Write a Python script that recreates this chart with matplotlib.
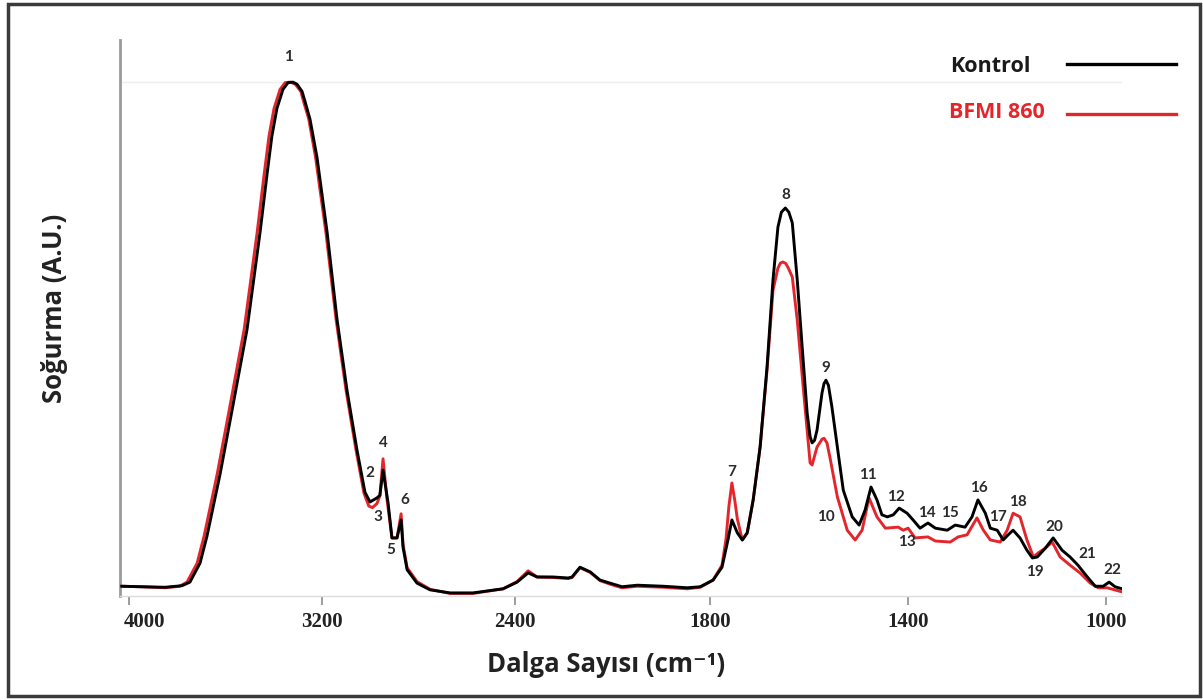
import numpy as np
import matplotlib.pyplot as plt
from matplotlib.patches import Rectangle

# FTIR spectra, (wavenumber cm-1, absorbance a.u.)
kontrol = [
    (4030, 0.019), (3950, 0.018), (3850, 0.017), (3780, 0.020), (3747, 0.027),
    (3705, 0.064), (3676, 0.117), (3622, 0.237), (3568, 0.372), (3510, 0.519),
    (3456, 0.708), (3427, 0.821), (3407, 0.895), (3386, 0.949), (3361, 0.986),
    (3340, 0.999), (3320, 1.000), (3303, 0.996), (3282, 0.982), (3270, 0.963),
    (3249, 0.928), (3220, 0.854), (3178, 0.708), (3137, 0.539),
    (3095, 0.399), (3054, 0.284), (3021, 0.202), (3000, 0.183), (2971, 0.191),
    (2959, 0.196), (2946, 0.245), (2925, 0.181), (2909, 0.113), (2888, 0.113),
    (2871, 0.148), (2863, 0.095), (2846, 0.051), (2805, 0.025), (2751, 0.012),
    (2668, 0.006), (2573, 0.006), (2448, 0.014), (2390, 0.027), (2344, 0.045),
    (2307, 0.037), (2241, 0.037), (2178, 0.035), (2162, 0.037), (2129, 0.056),
    (2087, 0.047), (2046, 0.031), (2004, 0.025), (1978, 0.018), (1947, 0.021),
    (1895, 0.019), (1846, 0.016), (1820, 0.018), (1794, 0.031), (1776, 0.056),
    (1764, 0.109), (1756, 0.148), (1745, 0.123), (1735, 0.109), (1725, 0.123),
    (1713, 0.187), (1699, 0.290), (1685, 0.446), (1673, 0.615), (1663, 0.718),
    (1656, 0.747), (1648, 0.755), (1641, 0.747), (1634, 0.726), (1624, 0.615),
    (1614, 0.484), (1604, 0.356), (1598, 0.310), (1594, 0.298), (1589, 0.303),
    (1584, 0.323), (1574, 0.395), (1570, 0.413), (1566, 0.420), (1561, 0.410),
    (1554, 0.368), (1543, 0.290), (1531, 0.206), (1513, 0.154), (1499, 0.138),
    (1487, 0.167), (1475, 0.212), (1463, 0.187), (1453, 0.158), (1442, 0.154),
    (1430, 0.158), (1418, 0.171), (1402, 0.161), (1390, 0.148), (1376, 0.132),
    (1360, 0.142), (1345, 0.132), (1321, 0.128), (1305, 0.138), (1285, 0.134),
    (1271, 0.154), (1259, 0.187), (1244, 0.161), (1234, 0.132), (1220, 0.128),
    (1208, 0.109), (1198, 0.119), (1188, 0.128), (1174, 0.113), (1160, 0.089),
    (1149, 0.074), (1139, 0.076), (1123, 0.093), (1107, 0.113), (1089, 0.089),
    (1073, 0.076), (1057, 0.060), (1038, 0.037), (1022, 0.019), (1006, 0.019),
    (994, 0.027), (982, 0.018), (968, 0.014),
]

bfmi_860 = [
    (4030, 0.019), (3950, 0.018), (3850, 0.016), (3790, 0.019), (3759, 0.027),
    (3717, 0.064), (3688, 0.117), (3634, 0.237), (3580, 0.372), (3522, 0.519),
    (3468, 0.708), (3439, 0.821), (3419, 0.895), (3398, 0.949), (3373, 0.986),
    (3352, 0.999), (3330, 1.000), (3310, 0.996), (3287, 0.982), (3276, 0.963),
    (3254, 0.928), (3226, 0.854), (3183, 0.708), (3141, 0.539),
    (3099, 0.399), (3058, 0.284), (3025, 0.200), (3005, 0.175), (2990, 0.172),
    (2971, 0.180), (2959, 0.195), (2946, 0.267), (2930, 0.190), (2909, 0.113),
    (2888, 0.113), (2871, 0.160), (2863, 0.100), (2846, 0.055), (2805, 0.028),
    (2751, 0.013), (2668, 0.005), (2573, 0.005), (2448, 0.014), (2390, 0.028),
    (2344, 0.049), (2307, 0.037), (2241, 0.036), (2178, 0.034), (2162, 0.036),
    (2129, 0.055), (2087, 0.046), (2046, 0.030), (2004, 0.023), (1978, 0.016),
    (1947, 0.019), (1895, 0.017), (1846, 0.014), (1820, 0.017), (1794, 0.031),
    (1776, 0.060), (1768, 0.110), (1762, 0.175), (1756, 0.220), (1750, 0.185),
    (1745, 0.150), (1735, 0.109), (1725, 0.123), (1713, 0.187), (1699, 0.290),
    (1685, 0.440), (1673, 0.595), (1663, 0.638), (1658, 0.648), (1653, 0.650),
    (1647, 0.647), (1642, 0.638), (1634, 0.621), (1624, 0.537), (1612, 0.407),
    (1598, 0.259), (1594, 0.255), (1584, 0.290), (1574, 0.305), (1570, 0.307),
    (1564, 0.298), (1558, 0.270), (1543, 0.193), (1523, 0.128), (1507, 0.109),
    (1493, 0.128), (1479, 0.191), (1463, 0.154), (1446, 0.132), (1420, 0.134),
    (1410, 0.128), (1400, 0.132), (1386, 0.113), (1360, 0.115), (1345, 0.107),
    (1315, 0.105), (1299, 0.115), (1281, 0.119), (1261, 0.152), (1248, 0.128),
    (1234, 0.109), (1214, 0.105), (1200, 0.128), (1188, 0.161), (1174, 0.154),
    (1160, 0.109), (1147, 0.076), (1137, 0.084), (1123, 0.093), (1109, 0.105),
    (1093, 0.076), (1073, 0.060), (1053, 0.045), (1032, 0.025), (1016, 0.016),
    (998, 0.016), (968, 0.008),
]

# numbered band labels: (number, wavenumber, height)
peak_labels = [
    (1, 3340, 1.049), (2, 3000, 0.239), (3, 2967, 0.154), (4, 2946, 0.298),
    (5, 2913, 0.089), (6, 2855, 0.187), (7, 1756, 0.241), (8, 1648, 0.780),
    (9, 1566, 0.444), (10, 1566, 0.154), (11, 1481, 0.235), (12, 1424, 0.193),
    (13, 1402, 0.105), (14, 1362, 0.161), (15, 1315, 0.161), (16, 1257, 0.210),
    (17, 1218, 0.154), (18, 1178, 0.183), (19, 1145, 0.047), (20, 1105, 0.134),
    (21, 1038, 0.082), (22, 988, 0.051),
]

x_ticks = [4000, 3200, 2400, 1800, 1400, 1000]

# axis is compressed above 2000 cm-1
BREAK = 2000
RATIO = 0.487


def fwd(w):
    w = np.asarray(w, dtype=float)
    return np.where(w >= BREAK, BREAK + (w - BREAK) * RATIO, w)


def inv(u):
    u = np.asarray(u, dtype=float)
    return np.where(u >= BREAK, BREAK + (u - BREAK) / RATIO, u)


sans = ['Lato', 'DejaVu Sans']
wide = ['Open Sans', 'DejaVu Sans']
serif = ['Liberation Serif', 'DejaVu Serif']
red = '#e3262b'
tick_font = dict(family=serif, fontweight='bold', fontsize=15, color='#222222')

fig = plt.figure(figsize=(12.03, 7.0), dpi=100)
ax = fig.add_axes([120 / 1203, 104 / 700, 1002 / 1203, 556 / 700])
ax.set_xscale('function', functions=(fwd, inv))

kw, ka = np.array(kontrol).T
bw, ba = np.array(bfmi_860).T
ax.axhline(1.0, color='#efefef', lw=1, zorder=0)
ax.plot(bw, ba, color=red, lw=2.1, solid_joinstyle='round', zorder=2)
ax.plot(kw, ka, color='black', lw=2.1, solid_joinstyle='round', zorder=3)

for num, w, a in peak_labels:
    ax.text(w, a, str(num), ha='center', va='center', fontsize=11,
            fontweight='bold', color='#2b2b2b', family=sans, zorder=4)

ax.set_xlim(4037, 968)
ax.set_ylim(0, 1.082)
ax.set_xticks(x_ticks)
# first label sits a little right of its tick, next to the y axis
ax.set_xticklabels([''] + [str(t) for t in x_ticks[1:]], **tick_font)
ax.annotate(str(x_ticks[0]), xy=(x_ticks[0], 0),
            xycoords=('data', 'axes fraction'), xytext=(11, -11.5),
            textcoords='offset points', ha='center', va='top', **tick_font)
ax.set_yticks([])
ax.tick_params(axis='x', direction='out', length=6.5, width=1.2,
               color='#8c8c8c', pad=5)
for side in ['top', 'right']:
    ax.spines[side].set_visible(False)
ax.spines['left'].set_color('#9a9a9a')
ax.spines['left'].set_linewidth(2)
ax.spines['bottom'].set_color('#dcdcdc')
ax.spines['bottom'].set_linewidth(1)

fig.text(606 / 1203, 1 - 664 / 700, 'Dalga Sayısı (cm⁻¹)', ha='center',
         va='center', fontsize=18.5, fontweight='bold', family=wide,
         color='#222222')
fig.text(55 / 1203, 1 - 308 / 700, 'Soğurma (A.U.)', ha='center',
         va='center', rotation=90, fontsize=18.5, fontweight='bold',
         family=wide, color='#222222')

# hand-drawn key in the upper right corner
fig.text(990 / 1203, 1 - 67 / 700, 'Kontrol', ha='center', va='center',
         fontsize=15.5, fontweight='bold', family=wide, color='#1a1a1a')
fig.text(997 / 1203, 1 - 113 / 700, 'BFMI 860', ha='center', va='center',
         fontsize=15.5, fontweight='bold', family=wide, color=red)
fig.add_artist(plt.Line2D([1067 / 1203, 1176 / 1203], [1 - 64 / 700, 1 - 64 / 700],
                          color='black', lw=2.4, transform=fig.transFigure))
fig.add_artist(plt.Line2D([1067 / 1203, 1176 / 1203], [1 - 114 / 700, 1 - 114 / 700],
                          color=red, lw=2.4, transform=fig.transFigure))

fig.add_artist(Rectangle((8 / 1203, 4 / 700), 1192 / 1203, 692 / 700,
                         transform=fig.transFigure, fill=False,
                         edgecolor='#3a3a3a', lw=2.5))

fig.savefig('out.png', dpi=100)
